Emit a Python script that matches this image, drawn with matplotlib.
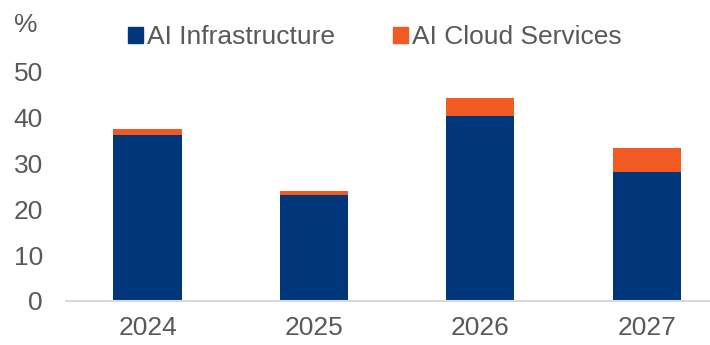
import matplotlib.pyplot as plt
from matplotlib.patches import Patch

years = ["2024", "2025", "2026", "2027"]
infrastructure = [36.2, 23.1, 40.3, 28.1]
cloud_services = [1.3, 0.9, 3.9, 5.2]

BLUE = "#00377b"
ORANGE = "#f15a22"
GREY = "#595959"
FS = 19

plt.rcParams['font.family'] = ['Liberation Sans', 'DejaVu Sans']

fig = plt.figure(figsize=(7.1, 3.45), dpi=100)
ax = fig.add_axes([66 / 710, 44 / 345, 1 - 66 / 710, 229.5 / 345])

x = range(len(years))
ax.bar(x, infrastructure, width=0.41, color=BLUE)
ax.bar(x, cloud_services, width=0.41, bottom=infrastructure, color=ORANGE)

ax.set_xlim(-0.49, 3.38)
ax.set_ylim(0, 50)
ax.set_yticks(range(0, 51, 10))
ax.set_xticks(list(x))
ax.set_xticklabels(years)

for side in ["top", "right", "left"]:
    ax.spines[side].set_visible(False)
ax.spines["bottom"].set_color("#d9d9d9")
ax.spines["bottom"].set_linewidth(1.5)
ax.tick_params(axis="both", length=0, labelsize=FS, colors=GREY)
ax.tick_params(axis="y", pad=16.5)
ax.tick_params(axis="x", pad=11)

fig.text(26 / 710, 1 - 25 / 345, "%", fontsize=FS, color=GREY, va="center", ha="center")

handles = [Patch(color=BLUE), Patch(color=ORANGE)]
fig.legend(handles, ["AI Infrastructure", "AI Cloud Services"], ncol=2,
           loc="center left", bbox_to_anchor=(128 / 710, 1 - 37.5 / 345),
           frameon=False, fontsize=FS, labelcolor=GREY,
           handlelength=0.57, handleheight=0.53, handletextpad=0.15,
           columnspacing=2.2, borderaxespad=0, borderpad=0)

fig.savefig("out.png", dpi=100)
